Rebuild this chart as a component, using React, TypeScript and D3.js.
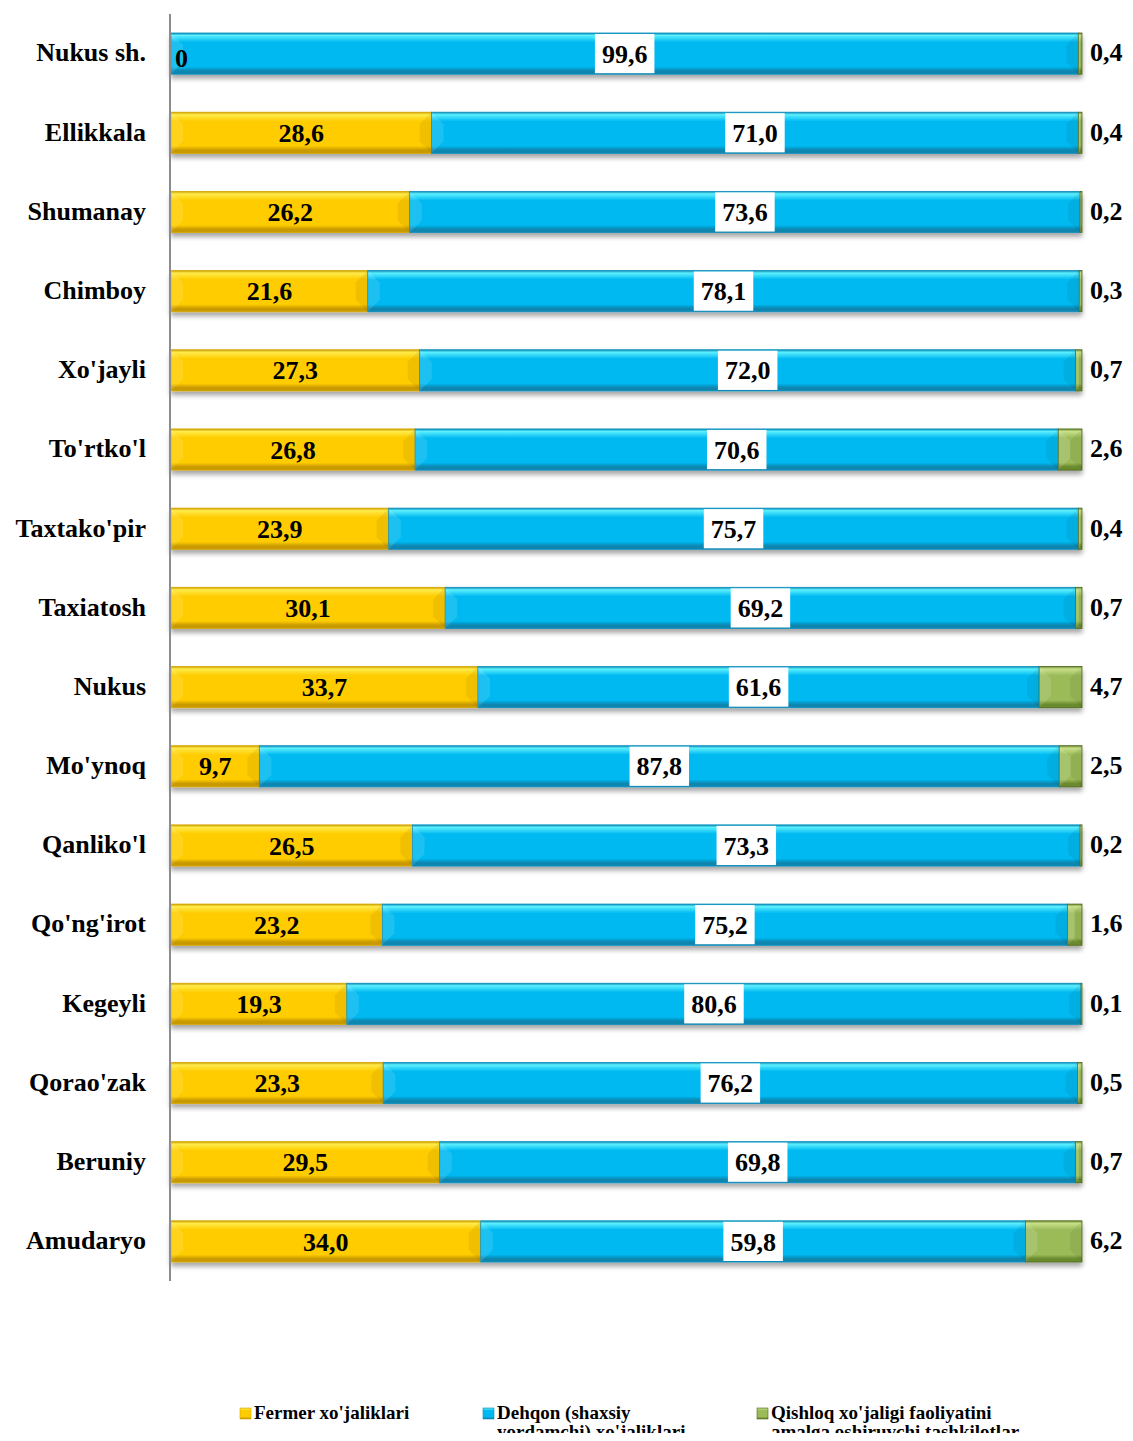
import { useRef, useEffect } from "react";
import * as d3 from "d3";

const regions = [
  "Nukus sh.", "Ellikkala", "Shumanay", "Chimboy", "Xo'jayli", "To'rtko'l",
  "Taxtako'pir", "Taxiatosh", "Nukus", "Mo'ynoq", "Qanliko'l", "Qo'ng'irot",
  "Kegeyli", "Qorao'zak", "Beruniy", "Amudaryo",
];
const fermer = [0, 28.6, 26.2, 21.6, 27.3, 26.8, 23.9, 30.1, 33.7, 9.7, 26.5, 23.2, 19.3, 23.3, 29.5, 34.0];
const dehqon = [99.6, 71.0, 73.6, 78.1, 72.0, 70.6, 75.7, 69.2, 61.6, 87.8, 73.3, 75.2, 80.6, 76.2, 69.8, 59.8];
const tashkilot = [0.4, 0.4, 0.2, 0.3, 0.7, 2.6, 0.4, 0.7, 4.7, 2.5, 0.2, 1.6, 0.1, 0.5, 0.7, 6.2];
const seriesNames = [
  ["Fermer xo'jaliklari"],
  ["Dehqon (shaxsiy", "yordamchi) xo'jaliklari"],
  ["Qishloq xo'jaligi faoliyatini", "amalga oshiruvchi tashkilotlar"],
];

const COLORS = [
  { id: "gY", top: "#FFEB4A", base: "#FFCC00", bottom: "#C99A00", edge: "#D9A800" },
  { id: "gB", top: "#5CF0FF", base: "#00B9F1", bottom: "#0A86B0", edge: "#0A8FC0" },
  { id: "gG", top: "#C9E08A", base: "#9BBB59", bottom: "#6A8A2E", edge: "#4F6A1E" },
];

const fmt = (v: number) => (v === 0 ? "0" : v.toFixed(1).replace(".", ","));
const FONT = "'Liberation Serif', 'Times New Roman', serif";

export default function App() {
  const svgRef = useRef<SVGSVGElement>(null);
  const width = 1133;
  const height = 1441;

  useEffect(() => {
    if (!svgRef.current) return;
    const svg = d3.select(svgRef.current);
    svg.selectAll("*").remove();

    const defs = svg.append("defs");
    COLORS.forEach((c) => {
      const lg = defs.append("linearGradient").attr("id", c.id)
        .attr("x1", 0).attr("y1", 0).attr("x2", 0).attr("y2", 1);
      lg.append("stop").attr("offset", "0%").attr("stop-color", c.bottom);
      lg.append("stop").attr("offset", "6%").attr("stop-color", c.top);
      lg.append("stop").attr("offset", "22%").attr("stop-color", c.base);
      lg.append("stop").attr("offset", "82%").attr("stop-color", c.base);
      lg.append("stop").attr("offset", "92%").attr("stop-color", c.bottom);
      lg.append("stop").attr("offset", "100%").attr("stop-color", c.bottom);
    });
    const sh = defs.append("filter").attr("id", "shadow")
      .attr("x", "-5%").attr("y", "-20%").attr("width", "110%").attr("height", "160%");
    sh.append("feGaussianBlur").attr("in", "SourceAlpha").attr("stdDeviation", 2.5);
    sh.append("feOffset").attr("dy", 4).attr("result", "b");
    sh.append("feComponentTransfer").append("feFuncA").attr("type", "linear").attr("slope", 0.35);
    const mg = sh.append("feMerge");
    mg.append("feMergeNode");
    mg.append("feMergeNode").attr("in", "SourceGraphic");

    const x = d3.scaleLinear().domain([0, 100]).range([171, 1082]);
    const y = d3.scaleBand().domain(regions).range([14, 1281]).paddingInner(0.48).paddingOuter(0.24);

    const rows = regions.map((r, i) => {
      const vals = [fermer[i], dehqon[i], tashkilot[i]];
      let acc = 0;
      return {
        r,
        segs: vals.map((v, k) => {
          const s = { k, v, x0: acc, x1: acc + v };
          acc += v;
          return s;
        }),
      };
    });

    const g = svg.append("g");
    const bh = y.bandwidth();

    // bars
    rows.forEach((row) => {
      const rg = g.append("g").attr("filter", "url(#shadow)");
      row.segs.filter((s) => s.v > 0).forEach((s) => {
        const c = COLORS[s.k];
        const x0 = x(s.x0), x1 = x(s.x1), y0 = y(row.r)!;
        rg.append("rect")
          .attr("x", x0).attr("y", y0)
          .attr("width", x1 - x0).attr("height", bh)
          .attr("fill", `url(#${c.id})`)
          .attr("stroke", c.edge).attr("stroke-width", 0.8);
        // bevel corners
        const bv = Math.min(12, (x1 - x0) / 2);
        rg.append("path")
          .attr("d", `M${x0},${y0}L${x0 + bv},${y0 + bv}L${x0 + bv},${y0 + bh - bv}L${x0},${y0 + bh}Z`)
          .attr("fill", "#ffffff").attr("fill-opacity", 0.12);
        rg.append("path")
          .attr("d", `M${x1},${y0}L${x1 - bv},${y0 + bv}L${x1 - bv},${y0 + bh - bv}L${x1},${y0 + bh}Z`)
          .attr("fill", "#000000").attr("fill-opacity", 0.06);
      });
    });

    // axis line
    svg.append("line")
      .attr("x1", 170).attr("x2", 170).attr("y1", 14).attr("y2", 1281)
      .attr("stroke", "#8c8c8c").attr("stroke-width", 2);

    // category labels
    g.selectAll("text.cat")
      .data(regions)
      .join("text")
      .attr("class", "cat")
      .attr("x", 146)
      .attr("y", (d) => y(d)! + bh / 2)
      .attr("dy", "0.3em")
      .attr("text-anchor", "end")
      .style("font", `bold 26px ${FONT}`)
      .attr("fill", "#000")
      .text((d) => d);

    // value labels
    rows.forEach((row) => {
      const cy = y(row.r)! + bh / 2;
      const [f, d, t] = row.segs;
      // fermer
      g.append("text")
        .attr("x", f.v === 0 ? x(0) + 4 : (x(f.x0) + x(f.x1)) / 2)
        .attr("y", cy + (f.v === 0 ? 4 : 0))
        .attr("dy", "0.35em")
        .attr("text-anchor", f.v === 0 ? "start" : "middle")
        .style("font", `bold 26px ${FONT}`)
        .text(fmt(f.v));
      // dehqon with white box
      const dx = (x(d.x0) + x(d.x1)) / 2;
      const tx = g.append("text")
        .attr("x", dx).attr("y", cy)
        .attr("dy", "0.35em")
        .attr("text-anchor", "middle")
        .style("font", `bold 26px ${FONT}`)
        .text(fmt(d.v));
      const bb = (tx.node() as SVGTextElement).getBBox();
      g.insert("rect", () => tx.node())
        .attr("x", bb.x - 7).attr("y", y(row.r)! + 1)
        .attr("width", bb.width + 14).attr("height", bh - 2)
        .attr("fill", "#fff");
      // tashkilot outside end
      g.append("text")
        .attr("x", x(100) + 8).attr("y", cy)
        .attr("dy", "0.3em")
        .attr("text-anchor", "start")
        .style("font", `bold 26px ${FONT}`)
        .text(fmt(t.v));
    });

    // legend
    const lx = [240, 483, 757];
    const leg = svg.append("g");
    seriesNames.forEach((lines, i) => {
      const c = COLORS[i];
      leg.append("rect")
        .attr("x", lx[i]).attr("y", 1408)
        .attr("width", 11).attr("height", 11)
        .attr("fill", `url(#${c.id})`).attr("stroke", c.edge).attr("stroke-width", 0.6);
      lines.forEach((ln, j) => {
        leg.append("text")
          .attr("x", lx[i] + 14)
          .attr("y", 1419 + j * 19)
          .style("font", `bold 19px ${FONT}`)
          .text(ln);
      });
    });
  }, []);

  return <svg ref={svgRef} width={width} height={height} style={{ display: "block", margin: -8 }} />;
}
